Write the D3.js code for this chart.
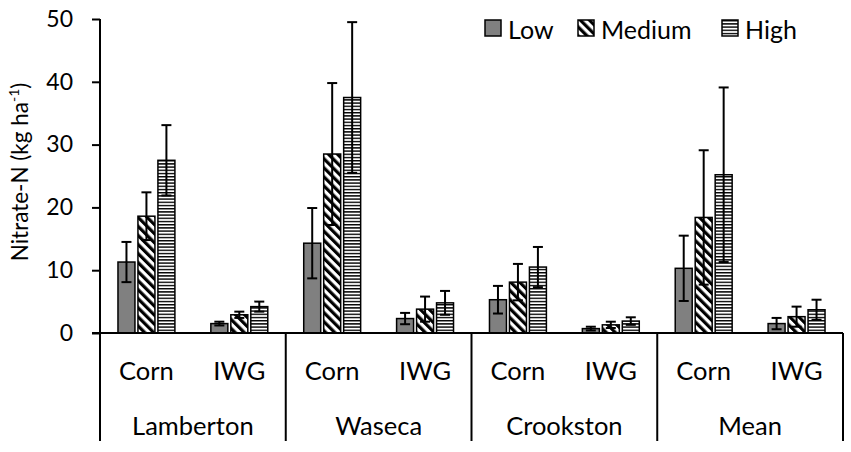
<!DOCTYPE html>
<html>
<head>
<meta charset="utf-8">
<script src="https://cdn.jsdelivr.net/npm/d3@7"></script>
<style>
  body { margin: 0; background: #fff; }
  text { font-family: Lato, "Open Sans", sans-serif; fill: #000; }
</style>
</head>
<body>
<div id="chart"></div>
<script>
// data
const sites = ["Lamberton", "Waseca", "Crookston", "Mean"];
const crops = ["Corn", "IWG"];
const levels = ["Low", "Medium", "High"];
const yTicks = [0, 10, 20, 30, 40, 50];

// one row per site+crop, order: Lamberton Corn, Lamberton IWG, Waseca Corn, ...
const lowVals = [11.3, 1.5, 14.3, 2.3, 5.3, 0.7, 10.3, 1.5];
const medVals = [18.6, 2.9, 28.5, 3.8, 8.1, 1.3, 18.4, 2.6];
const highVals = [27.5, 4.2, 37.5, 4.8, 10.5, 1.9, 25.2, 3.7];
const lowErr = [3.2, 0.3, 5.6, 0.9, 2.2, 0.3, 5.2, 0.9];
const medErr = [3.8, 0.5, 11.3, 2.0, 2.9, 0.5, 10.7, 1.6];
const highErr = [5.6, 0.8, 12.0, 1.9, 3.2, 0.6, 13.9, 1.6];

const width = 851, height = 452;
const margin = { top: 19, right: 8, bottom: 119, left: 100 };
const plotBottom = height - margin.bottom; // 333

const svg = d3.select("#chart").append("svg")
    .attr("width", width)
    .attr("height", height);

// patterns
const defs = svg.append("defs");
defs.append("pattern")
    .attr("id", "diag")
    .attr("patternUnits", "userSpaceOnUse")
    .attr("width", 6.4).attr("height", 6.4)
    .attr("patternTransform", "rotate(-45)")
    .call(p => {
        p.append("rect").attr("width", 6.4).attr("height", 6.4).attr("fill", "#fff");
        p.append("rect").attr("width", 3.2).attr("height", 6.4).attr("fill", "#000");
    });
defs.append("pattern")
    .attr("id", "horiz")
    .attr("patternUnits", "userSpaceOnUse")
    .attr("width", 4).attr("height", 3.2)
    .call(p => {
        p.append("rect").attr("width", 4).attr("height", 3.2).attr("fill", "#fff");
        p.append("rect").attr("width", 4).attr("height", 1.4).attr("fill", "#000");
    });

const fills = { Low: "#808080", Medium: "url(#diag)", High: "url(#horiz)" };

// scales
let y = d3.scaleLinear().domain([0, 50]).range([plotBottom, margin.top]);
let xSite = d3.scaleBand().domain(sites).range([margin.left, width - margin.right]);
let xCrop = d3.scaleBand().domain(crops).range([0, xSite.bandwidth()]);
let xLevel = d3.scaleBand().domain(levels).range([0, xCrop.bandwidth()])
    .paddingInner(0.15).paddingOuter(0.9);

// build rows for the bars
let rows = [];
sites.forEach(function (s, si) {
    crops.forEach(function (c, ci) {
        let i = si * 2 + ci;
        rows.push({ site: s, crop: c, level: "Low", value: lowVals[i], err: lowErr[i] });
        rows.push({ site: s, crop: c, level: "Medium", value: medVals[i], err: medErr[i] });
        rows.push({ site: s, crop: c, level: "High", value: highVals[i], err: highErr[i] });
    });
});

function barX(d) { return xSite(d.site) + xCrop(d.crop) + xLevel(d.level); }

// y axis
let yAxis = svg.append("g")
    .attr("transform", "translate(" + margin.left + ",0)")
    .call(d3.axisLeft(y).tickValues(yTicks).tickSize(8).tickPadding(19));
yAxis.select(".domain").remove();
yAxis.selectAll(".tick line").attr("stroke", "#000").attr("stroke-width", 2);
yAxis.selectAll(".tick text")
    .attr("font-size", "23px")
    .attr("font-family", "Lato, 'Open Sans', sans-serif");

svg.append("line")
    .attr("x1", margin.left).attr("x2", margin.left)
    .attr("y1", margin.top).attr("y2", 441)
    .attr("stroke", "#000").attr("stroke-width", 2);

// bars
svg.append("g")
    .selectAll("rect")
    .data(rows)
    .enter()
    .append("rect")
    .attr("x", barX)
    .attr("y", d => y(d.value))
    .attr("width", xLevel.bandwidth())
    .attr("height", d => y(0) - y(d.value))
    .attr("fill", d => fills[d.level])
    .attr("stroke", "#000")
    .attr("stroke-width", 1.5);

// error bars
let eb = svg.append("g")
    .attr("stroke", "#000")
    .attr("stroke-width", 2)
    .selectAll("g")
    .data(rows)
    .enter()
    .append("g")
    .attr("transform", d => "translate(" + (barX(d) + xLevel.bandwidth() / 2) + ",0)");
eb.append("line")
    .attr("y1", d => y(d.value - d.err))
    .attr("y2", d => y(d.value + d.err));
eb.append("line")
    .attr("x1", -5).attr("x2", 5)
    .attr("y1", d => y(d.value + d.err))
    .attr("y2", d => y(d.value + d.err));
eb.append("line")
    .attr("x1", -5).attr("x2", 5)
    .attr("y1", d => y(d.value - d.err))
    .attr("y2", d => y(d.value - d.err));

// x axis line
svg.append("line")
    .attr("x1", margin.left - 8).attr("x2", width - margin.right)
    .attr("y1", y(0)).attr("y2", y(0))
    .attr("stroke", "#000").attr("stroke-width", 2);

// group separators
svg.append("g")
    .selectAll("line")
    .data(sites.slice(1).map(s => xSite(s)).concat([width - margin.right]))
    .enter()
    .append("line")
    .attr("x1", d => d).attr("x2", d => d)
    .attr("y1", y(0)).attr("y2", 441)
    .attr("stroke", "#000").attr("stroke-width", 2);

// crop labels
sites.forEach(function (s) {
    svg.append("g")
        .selectAll("text")
        .data(crops)
        .enter()
        .append("text")
        .attr("x", c => xSite(s) + xCrop(c) + xCrop.bandwidth() / 2)
        .attr("y", 370)
        .attr("text-anchor", "middle")
        .attr("dominant-baseline", "central")
        .attr("font-size", "25.5px")
        .text(c => c);
});

// site labels
svg.append("g")
    .selectAll("text")
    .data(sites)
    .enter()
    .append("text")
    .attr("x", s => xSite(s) + xSite.bandwidth() / 2)
    .attr("y", 425)
    .attr("text-anchor", "middle")
    .attr("dominant-baseline", "central")
    .attr("font-size", "25.5px")
    .text(s => s);

// y axis title
svg.append("text")
    .attr("transform", "translate(28," + 172 + ") rotate(-90)")
    .attr("text-anchor", "middle")
    .attr("font-size", "22.5px")
    .call(t => {
        t.append("tspan").text("Nitrate-N (kg ha");
        t.append("tspan").attr("font-size", "14px").attr("dy", "-9").text("-1");
        t.append("tspan").attr("dy", "9").text(")");
    });

// legend
const legendX = [485, 578, 722];
let lg = svg.append("g")
    .selectAll("g")
    .data(levels)
    .enter()
    .append("g")
    .attr("transform", (d, i) => "translate(" + legendX[i] + ",20)");
lg.append("rect")
    .attr("width", 16).attr("height", 16)
    .attr("fill", d => fills[d])
    .attr("stroke", "#000")
    .attr("stroke-width", 1.5);
lg.append("text")
    .attr("x", 23)
    .attr("y", 8.5)
    .attr("dominant-baseline", "central")
    .attr("font-size", "25px")
    .text(d => d);
</script>
</body>
</html>
